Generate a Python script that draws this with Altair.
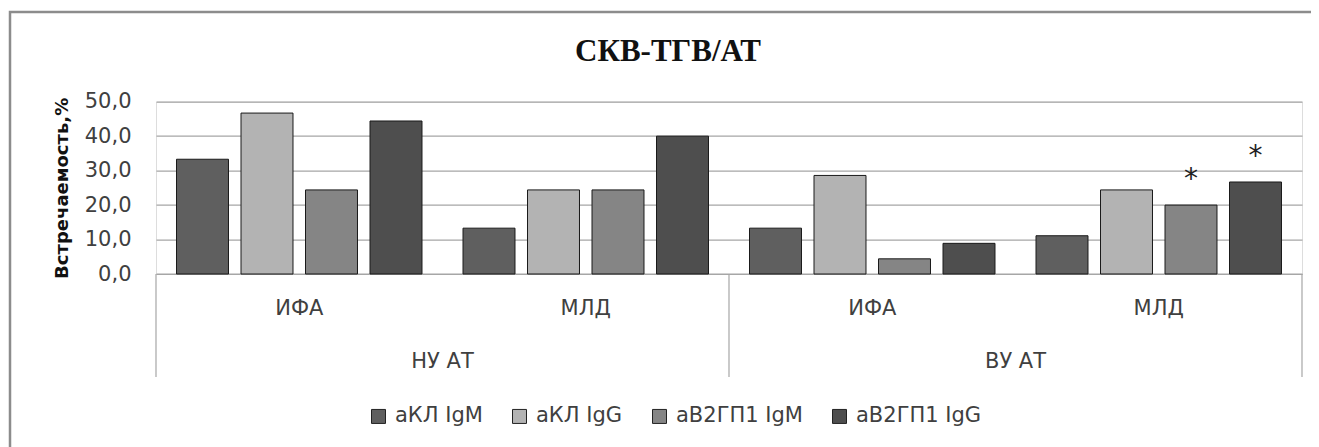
import altair as alt
import pandas as pd

# ---- data ----
top_groups = ["НУ АТ", "ВУ АТ"]
cat_groups = ["НУ АТ", "НУ АТ", "ВУ АТ", "ВУ АТ"]
cat_methods = ["ИФА", "МЛД", "ИФА", "МЛД"]
series = ["аКЛ IgM", "аКЛ IgG", "аВ2ГП1 IgM", "аВ2ГП1  IgG"]
values = [
    [33.3, 46.7, 24.4, 44.4],   # НУ АТ / ИФА
    [13.3, 24.4, 24.4, 40.0],   # НУ АТ / МЛД
    [13.3, 28.6, 4.4, 8.9],     # ВУ АТ / ИФА
    [11.1, 24.4, 20.0, 26.7],   # ВУ АТ / МЛД
]
stars = [
    ["", "", "", ""],
    ["", "", "", ""],
    ["", "", "", ""],
    ["", "", "*", "*"],
]
colors = ["#5f5f5f", "#b3b3b3", "#858585", "#4e4e4e"]
y_ticks = [0, 10, 20, 30, 40, 50]

W, H = 1146, 172.3
FONT = "DejaVu Sans"
TXT = "#404040"

cats = [f"{g}|{m}" for g, m in zip(cat_groups, cat_methods)]
rows = []
for i, c in enumerate(cats):
    for j, s in enumerate(series):
        rows.append({"cat": c, "series": s, "value": values[i][j], "star": stars[i][j]})
df = pd.DataFrame(rows)

gdf = pd.DataFrame({"group": top_groups, "last": [g == top_groups[-1] for g in top_groups]})

band0 = alt.Scale(paddingInner=0, paddingOuter=0)
xoff = alt.XOffset("series:N", sort=series,
                   scale=alt.Scale(paddingInner=0.194, paddingOuter=0.318))
yaxis = alt.Axis(values=y_ticks, title="Встречаемость,%",
                 labelExpr="replace(format(datum.value,'.1f'),'.',',')",
                 labelFont=FONT, labelFontSize=21, labelColor=TXT,
                 labelPadding=25, ticks=False, domain=False,
                 labelOverlap=False,
                 grid=True, gridColor="#a6a6a6", gridWidth=1.2,
                 titleFont=FONT, titleFontSize=18, titleFontWeight="bold",
                 titleColor="#111", titlePadding=13)
yscale = alt.Scale(domain=[0, 50], nice=False)

frame = alt.Chart(pd.DataFrame({"k": [0]})).mark_rect(
    fill="transparent", stroke="#8c8c8c", strokeWidth=2.5
).encode(x=alt.value(-146), x2=alt.value(W + 40), y=alt.value(-89.7), y2=alt.value(H + 250))

bars = alt.Chart(df).mark_bar(stroke="#1a1a1a", strokeWidth=1).encode(
    x=alt.X("cat:N", sort=cats, scale=band0, title=None,
            axis=alt.Axis(labelExpr="split(datum.label,'|')[1]", ticks=False,
                          domainColor="#a6a6a6", domainWidth=1.2, labelAngle=0,
                          labelPadding=34, labelBaseline="middle",
                          labelFont=FONT, labelFontSize=21, labelColor=TXT, grid=False)),
    xOffset=xoff,
    y=alt.Y("value:Q", scale=yscale, axis=yaxis),
    color=alt.Color("series:N", sort=series,
                    scale=alt.Scale(domain=series, range=colors),
                    legend=alt.Legend(orient="none", legendX=212, legendY=304,
                                      direction="horizontal", columns=4, title=None,
                                      symbolType="square", symbolSize=196,
                                      symbolStrokeColor="#222", symbolStrokeWidth=1,
                                      labelFont=FONT, labelFontSize=21, labelColor=TXT,
                                      columnPadding=26, labelOffset=6, padding=0)),
)

star_txt = alt.Chart(df).mark_text(font=FONT, fontSize=28, color="#222",
                                   baseline="alphabetic", dy=-17).encode(
    x=alt.X("cat:N", sort=cats, scale=band0, axis=None),
    xOffset=xoff,
    y=alt.Y("value:Q", scale=yscale, axis=yaxis),
    text="star:N",
)

grp_txt = alt.Chart(gdf).mark_text(font=FONT, fontSize=21, color=TXT, baseline="middle").encode(
    x=alt.X("group:N", sort=top_groups, scale=band0, axis=None),
    y=alt.value(H + 88),
    text="group:N",
)

sep = alt.Chart(gdf).mark_rule(color="#a6a6a6", strokeWidth=1.2).encode(
    x=alt.X("group:N", sort=top_groups, scale=band0, axis=None, bandPosition=0),
    y=alt.value(H), y2=alt.value(H + 103),
)
sep_end = alt.Chart(gdf).transform_filter("datum.last").mark_rule(color="#a6a6a6", strokeWidth=1.2).encode(
    x=alt.X("group:N", sort=top_groups, scale=band0, axis=None, bandPosition=1),
    y=alt.value(H), y2=alt.value(H + 103),
)

chart = alt.layer(frame, bars, star_txt, grp_txt, sep, sep_end).resolve_scale(
    x="independent"
).properties(
    width=W, height=H,
    autosize=alt.AutoSizeParams(type="none"),
    padding={"left": 148, "top": 93.7, "right": 9, "bottom": 173},
    title=alt.TitleParams("СКВ-ТГВ/АТ", font="Liberation Serif", fontSize=31,
                          fontWeight="bold", color="#111", anchor="middle",
                          frame="group", dx=-61, offset=0, dy=81, baseline="alphabetic"),
).configure_view(stroke=None).configure(background="white")

chart.save("out.html", embed_options={"renderer": "svg", "actions": False})
